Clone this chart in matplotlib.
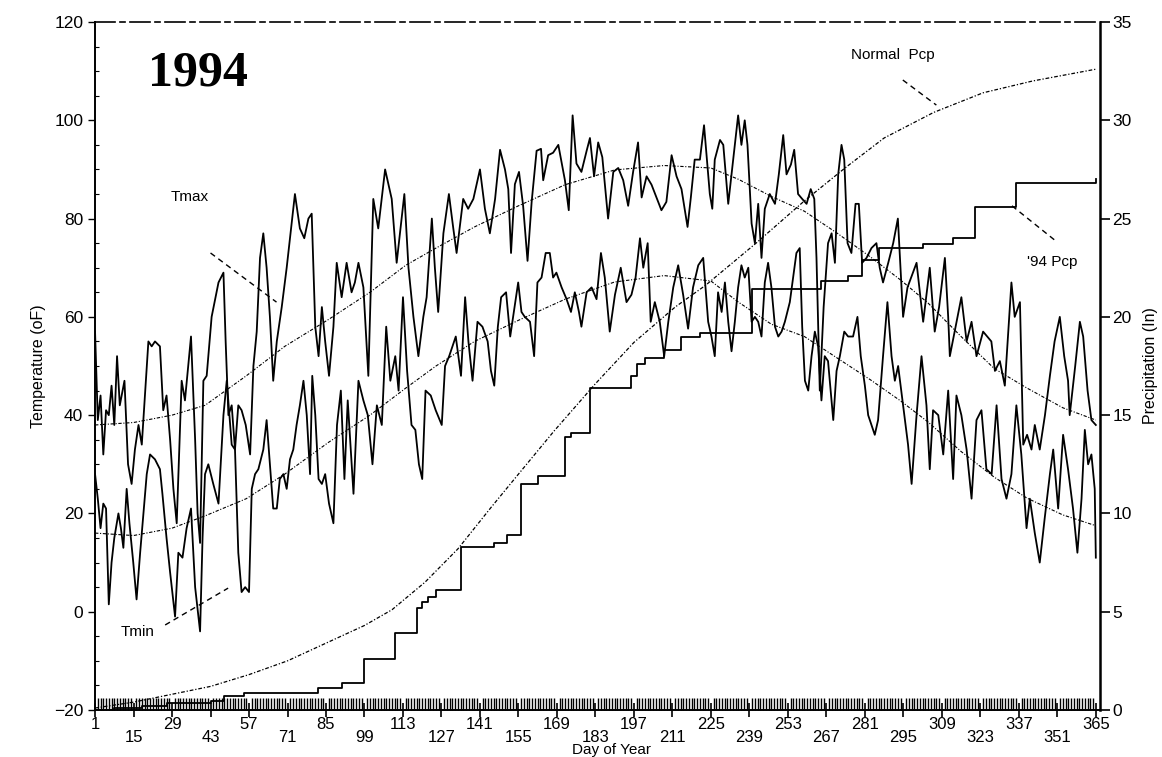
import matplotlib
matplotlib.use("Agg")
import matplotlib.pyplot as plt

# Daily max / min temperature (deg F) at (day, value)
tmax_days = [1, 2, 3, 4, 5, 6, 7, 8, 9, 10, 11.7, 13, 14.3, 15.5, 16.8, 18, 20.4, 21.6, 22.8, 24.6,
             25.8, 27, 28.3, 29.5, 30.7, 32.5, 33.7, 35.9, 37.4, 38.3, 39.2, 40.4, 41.6, 43.4, 45.9,
             47.7, 48.5, 49.5, 50.7, 51.9, 53.1, 54.3, 55.8, 57.4, 58.6, 59.8, 61, 62.2, 63.4, 64.6,
             65.8, 67.1, 68.9, 70.7, 72.3, 73.7, 75.5, 77.1, 78.6, 79.8, 81.1, 82.3, 83.5, 84.7, 86.1,
             87.7, 88.9, 90.7, 92.5, 94.3, 95.5, 96.8, 98.6, 100.4, 102.2, 104, 106.5, 108.9, 110.7,
             113.5, 115, 116.8, 118.6, 120.4, 121.6, 123.5, 124.6, 125.8, 127.7, 129.7, 131.3, 132.5,
             134.9, 136.7, 138.6, 141, 142.8, 144.6, 146.5, 148.3, 150.1, 151.3, 152.3, 153.7, 155.2,
             156.7, 158.3, 159.8, 161.6, 163.2, 164, 165.8, 167.6, 169.5, 171.9, 173.3, 174.7, 176.1,
             177.9, 179.8, 181, 182.5, 184, 185.5, 187.6, 189.5, 191.3, 193.1, 194.9, 196.7, 198.5,
             199.8, 201.6, 203.4, 205.2, 207, 208.8, 210.7, 212.5, 214.3, 216.5, 217.7, 219.1, 221,
             222.5, 224.6, 225.5, 226.4, 228.3, 229.5, 231.3, 233.1, 234.9, 236.1, 237.3, 238.3,
             239.8, 241, 242.2, 243.4, 244.6, 246.4, 248.3, 249.7, 251.3, 252.5, 254.1, 255.3, 256.7,
             258.2, 259.8, 261.3, 262.6, 263.4, 264.6, 266, 267.6, 268.9, 270.1, 271.3, 272.5, 273.5,
             274.7, 276.1, 277.6, 278.8, 280, 281.6, 283.4, 285.2, 286.4, 287.6, 289.5, 291.3, 293,
             294.9, 296.5, 299.8, 302.2, 304.6, 306.4, 308, 310.1, 311.3, 311.9, 314, 316.1, 318,
             319.8, 321.6, 324, 327, 328.3, 330.1, 331.9, 334.3, 335.5, 337.4, 338.6, 340, 341.6,
             342.8, 344.6, 346.5, 348.3, 350, 351.9, 353.5, 354.9, 355.5, 357.5, 359.2, 360.4, 362,
             363.4, 365]
tmax = [57, 39, 44, 32, 41, 40, 46, 38, 52, 42, 47, 30, 26, 33, 38, 34, 55, 54, 55, 54,
        41, 44, 35, 25, 18, 47, 43, 56, 35, 20, 14, 47, 48, 60, 67,
        69, 55, 40, 42, 33, 42, 41, 38, 32, 50, 57, 72, 77, 70, 60,
        47, 55, 62, 70, 78, 85, 78, 76, 80, 81, 58, 52, 62, 55, 48,
        58, 71, 64, 71, 65, 67, 71, 66, 48, 84, 78, 90, 84, 71,
        85, 70, 60, 52, 60, 64, 80, 70, 61, 77, 85, 78, 73,
        84, 82, 84, 90, 82, 77, 84, 94, 90, 86, 73, 87, 89.5,
        82.6, 71.4, 83.4, 93.8, 94.2, 87.8, 92.9, 93.4, 95, 87.8, 81.7, 101, 91.2,
        89.5, 93.8, 96.4, 88.6, 95.5, 92.5, 80, 89.5, 90.3, 87.8, 82.6, 89.5, 95.5,
        84.3, 88.6, 86.9, 84.3, 81.7, 83.4, 92.9, 88.6, 86, 78.3, 84.3, 92, 92,
        99, 85, 82, 92, 96, 95, 83, 92, 101, 95, 100, 95,
        79, 75, 83, 72, 82, 85, 83, 89, 97, 89, 91, 94, 85,
        84, 83, 86, 84, 72, 45, 62, 75, 77, 71, 89, 95, 92,
        75, 73, 83, 83, 71, 72, 74, 75, 70, 67, 71, 75, 80,
        60, 66, 71, 59, 70, 57, 62, 72, 60, 52, 58, 64, 55,
        59, 52, 57, 55, 49, 51, 46, 67, 60, 63, 34, 36, 33,
        38, 33, 40, 48, 55, 60, 52, 47, 40, 50, 59, 56, 45,
        39, 38]

tmin_days = [1, 2, 3, 4, 5, 6, 7, 8, 9.5, 10.4, 11.3, 12.5, 13.5, 14.9, 16.1, 17.4, 18.6, 19.8, 21,
             22.8, 24.6, 25.5, 27, 28.3, 30.1, 31.3, 32.8, 34.3, 35.9, 37.4, 39.2, 40.1, 41, 42.2,
             44, 45.9, 47.7, 48.9, 50.7, 51.9, 53.1, 54.3, 55.6, 57, 58, 59.2, 60.4, 62.2, 63.4,
             64.6, 65.8, 67.1, 68.2, 69.5, 70.7, 71.9, 73.1, 74.3, 75.5, 76.8, 78, 79.2, 80, 81.1,
             82.3, 83.5, 84.7, 86.1, 87.7, 89, 90.4, 91.7, 92.9, 95, 96.8, 98.6, 100.2, 101.9,
             103.5, 105.3, 106.9, 108.4, 110.2, 111.4, 113, 114.5, 116.1, 117.5, 118.8, 120, 121.2,
             123.1, 124.9, 127.1, 128.3, 129.8, 132.2, 134.1, 135.6, 136.8, 138.3, 140.1, 141.9,
             143.8, 145, 146.2, 147.5, 148.7, 150.5, 152, 153.6, 154.9, 156.1, 157.3, 159.2, 160.7,
             161.9, 163.4, 164.9, 166.4, 167.6, 168.8, 170.7, 172.5, 174.1, 175.5, 177, 177.9,
             179.8, 181.6, 183.4, 185, 186.4, 188.2, 190.1, 192.2, 194.3, 196.1, 197.6, 199.2,
             200.4, 202, 203.1, 204.6, 206.4, 208, 209.5, 211.3, 213.1, 214.9, 216.7, 218.5, 220.4,
             222.2, 224, 225.2, 226.4, 227.6, 228.9, 230.1, 231.3, 232.5, 233.7, 234.9, 236.1,
             237.3, 238.6, 239.8, 241, 242.2, 243.4, 244.6, 245.8, 247, 248.3, 249.5, 250.7, 251.9,
             253.7, 254.9, 256.1, 257.3, 258.2, 259.2, 260.4, 261.6, 262.8, 264, 265.2, 266.4,
             267.6, 269.5, 270.7, 271.9, 273.5, 274.9, 276.7, 278.3, 279.5, 281, 282.2, 283.4,
             284.6, 285.8, 287.6, 289.2, 290.7, 291.9, 293.1, 294.9, 296.7, 298, 299.8, 301.6,
             303.4, 304.6, 305.8, 307.7, 309.5, 311.3, 313.1, 314.3, 316.1, 318, 319.8, 321.6,
             323.4, 325.2, 327.1, 328.9, 330.7, 332.5, 334.3, 336.1, 337.9, 339.8, 341, 342.8,
             344.6, 346.4, 348.3, 349.5, 351.3, 353.1, 354.9, 356.7, 358.3, 359.8, 361, 362.2,
             363.4, 364.6, 365]
tmin = [28, 23, 17, 22, 21, 1.5, 10, 15, 20, 17, 13, 25, 18, 10, 2.5, 12, 20, 28, 32,
        31, 29, 24, 15, 8, -1, 12, 11, 17, 21, 5, -4, 15, 28, 30,
        26, 22, 40, 47, 34, 33, 12, 4, 5, 4, 25, 28, 29, 33, 39,
        30, 21, 21, 27, 28, 25, 31, 33, 38, 42, 47, 40, 28, 48, 40,
        27, 26, 28, 22, 18, 38, 45, 27, 43, 24, 47, 43, 40, 30,
        42, 38, 58, 47, 52, 45, 64, 49, 38, 37, 30, 27, 45,
        44, 41, 38, 50, 52, 56, 48, 64, 55, 47, 59, 58,
        55, 49, 46, 58, 64, 65, 56, 62, 67, 61, 60, 59, 52,
        67, 68, 73, 73, 68, 69, 66, 63.6, 61, 65, 61, 58,
        65, 66, 63.6, 73, 68, 57, 64.5, 70, 63, 64.5, 68, 76,
        70, 75, 59, 63, 59, 52, 59, 66, 70.5, 64.5, 57.6, 66, 70.5,
        72, 59, 56, 52, 65, 61, 67, 59, 53, 59, 66, 70.5,
        68, 70, 59, 60, 59, 56, 67, 71, 66, 58, 56, 57, 59,
        63, 68, 73, 74, 58, 47, 45, 52, 57, 54, 43, 52,
        51, 39, 49, 52, 57, 56, 56, 60, 52, 46, 40, 38,
        36, 39, 52, 63, 52, 47, 50, 42, 34, 26, 40, 52,
        42, 29, 41, 40, 32, 45, 27, 44, 40, 33, 23, 39,
        41, 29, 28, 42, 27, 23, 28, 42, 32, 17, 23, 16,
        10, 19, 28, 33, 21, 36, 29, 21, 12, 23, 37, 30,
        32, 25, 11]

# Long-term normal temperatures (deg F)
norm_days = [1, 15, 29, 41, 56, 70, 86, 101, 114, 125, 139, 155, 172, 190, 208, 225, 235,
             247, 259, 271, 283, 294, 304, 316, 328, 340, 353, 365]
norm_tmax = [38, 38.5, 40, 42, 48, 54, 59.5, 65, 70.5, 74, 78.3, 82.6, 86.9, 89.9, 90.8, 90.3,
             88, 84.5, 81.5, 77, 72.2, 67.5, 62.8, 56, 49.5, 45.5, 41.5, 39]
norm_tmin = [16, 15.5, 17, 19.5, 23, 28, 34.5, 40, 45.5, 50, 55, 59.3, 63.6, 67.1, 68.4, 67.3,
             63, 58.5, 56, 51.6, 47.2, 42.9, 38.6, 32.6, 27.4, 23.1, 19.7, 17.5]

# Cumulative precipitation (in)
npcp_days = [1, 15, 29, 43, 57, 71, 85, 99, 109, 121, 133, 145, 155, 168, 183, 197, 212, 223,
             241, 259, 274, 288, 306, 324, 342, 365]
npcp = [0.1, 0.4, 0.8, 1.2, 1.8, 2.5, 3.4, 4.3, 5.1, 6.5, 8.2, 10.3, 12.0, 14.2, 16.6, 18.7,
        20.5, 21.6, 23.7, 25.9, 27.6, 29.1, 30.4, 31.4, 32.0, 32.6]

pcp94_days = [1, 8, 18, 27, 43, 48, 55, 82, 91, 99, 110, 118, 120, 122, 125, 134, 146, 151, 156,
              162, 172, 174, 181, 196, 198, 201, 208, 214, 221, 240, 265, 275, 280, 286, 302, 313,
              321, 336, 365]
pcp94 = [0.0, 0.1, 0.2, 0.35, 0.45, 0.7, 0.85, 1.1, 1.35, 2.6, 3.9, 5.2, 5.5, 5.75, 6.1, 8.3,
         8.5, 8.9, 11.5, 11.9, 13.9, 14.1, 16.4, 17.0, 17.6, 17.9, 18.3, 19.0, 19.2, 21.4, 21.8,
         22.1, 22.9, 23.5, 23.7, 24.0, 25.6, 26.8, 27.0]

day_ticks = list(range(1, 366, 14))

plt.rcParams['font.family'] = ['Liberation Sans', 'DejaVu Sans']

fig = plt.figure(figsize=(11.62, 7.57), dpi=100)
ax = fig.add_axes([0.0818, 0.0621, 0.8648, 0.9088])
ax2 = ax.twinx()

normal_style = (0, (3, 1.5, 1, 1.5))

# Temperatures on the left axis
ax.plot(norm_days, norm_tmax, color='black', lw=0.8, linestyle=normal_style)
ax.plot(norm_days, norm_tmin, color='black', lw=0.8, linestyle=normal_style)
ax.plot(tmax_days, tmax, color='black', lw=1.3)
ax.plot(tmin_days, tmin, color='black', lw=1.3)

# Precipitation on the right axis
ax2.plot(npcp_days, npcp, color='black', lw=0.9, linestyle=normal_style)
ax2.plot(pcp94_days, pcp94, color='black', lw=1.3, drawstyle='steps-post')

ax.set_xlim(1, 366.5)
ax.set_ylim(-20, 120)
ax2.set_ylim(0, 35)

ax.set_yticks(range(-20, 121, 20))
ax.set_yticks(range(-20, 121, 5), minor=True)
ax2.set_yticks(range(0, 36, 5))

# Staggered day labels: every other one on a second row
ax.set_xticks(day_ticks)
ax.set_xticklabels([str(d) if i % 2 == 0 else '\n' + str(d) for i, d in enumerate(day_ticks)],
                   linespacing=0.85)
ax.set_xticks(range(1, 366), minor=True)

ax.tick_params(axis='x', which='major', direction='inout', length=10, width=1.2,
               labelsize=12, pad=0)
ax.tick_params(axis='x', which='minor', direction='in', length=9, width=1.0)
ax.tick_params(axis='y', which='major', direction='out', length=5, width=1, labelsize=12.5)
ax.tick_params(axis='y', which='minor', direction='in', length=3, width=0.8)
ax2.tick_params(axis='y', direction='out', length=7, width=1.2, labelsize=12.5, pad=2)

for sp in ['left', 'bottom']:
    ax.spines[sp].set_linewidth(1.4)
ax.spines['top'].set_linewidth(1.2)
ax.spines['top'].set_linestyle((0, (12, 3, 3, 3)))
ax.spines['right'].set_visible(False)
ax2.spines['right'].set_linewidth(1.8)
for sp in ['left', 'top', 'bottom']:
    ax2.spines[sp].set_visible(False)

ax.set_ylabel('Temperature (oF)', fontsize=11.5, labelpad=6)
ax2.set_ylabel('Precipitation (In)', fontsize=11.5, labelpad=8)
fig.text(612 / 1162, 1 - 750 / 757, 'Day of Year', ha='center', va='center', fontsize=11)

# Title and series labels with leader lines
ax.text(38.5, 109.6, '1994', ha='center', va='center', fontsize=36, fontweight='bold',
        family='Liberation Serif')
leader = dict(color='black', lw=1.0, linestyle=(0, (4, 3)))
ax.text(35.5, 84.4, 'Tmax', ha='center', va='center', fontsize=11)
ax.plot([43, 67], [73, 63], **leader)
ax.text(16.6, -4.1, 'Tmin', ha='center', va='center', fontsize=11)
ax.plot([26.5, 49.4], [-2.7, 4.8], **leader)
ax.text(291, 113.3, 'Normal  Pcp', ha='center', va='center', fontsize=11)
ax.plot([294.8, 307], [108.2, 103.1], **leader)
ax.text(349, 71.2, "'94 Pcp", ha='center', va='center', fontsize=11)
ax.plot([334.5, 350.1], [82.6, 75.6], **leader)

fig.savefig('out.png', dpi=100)
